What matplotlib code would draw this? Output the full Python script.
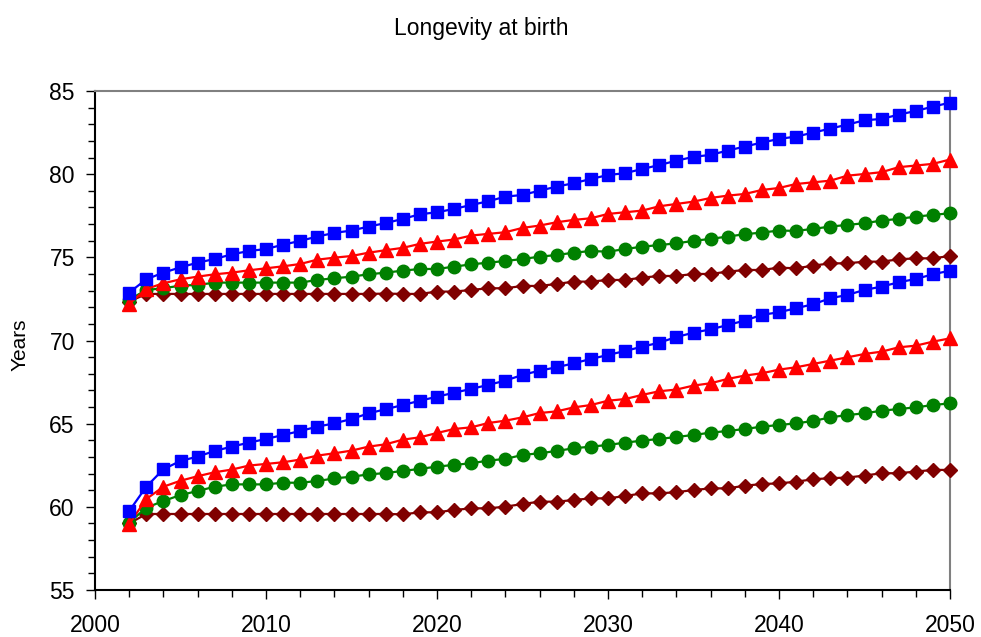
import matplotlib
matplotlib.use("Agg")
import matplotlib.pyplot as plt
from matplotlib.ticker import MultipleLocator

plt.rcParams['font.family'] = ['Liberation Sans', 'DejaVu Sans']

years = list(range(2002, 2051))

upper_blue = [72.88, 73.68, 74.08, 74.40, 74.68, 74.90, 75.18, 75.38, 75.50, 75.76,
              75.99, 76.25, 76.47, 76.61, 76.85, 77.06, 77.31, 77.59, 77.71, 77.91,
              78.15, 78.37, 78.65, 78.75, 79.01, 79.25, 79.46, 79.71, 79.95, 80.06,
              80.31, 80.55, 80.81, 81.04, 81.16, 81.42, 81.66, 81.90, 82.12, 82.26,
              82.50, 82.74, 82.98, 83.24, 83.32, 83.58, 83.80, 84.06, 84.30]
upper_red = [72.20, 73.10, 73.44, 73.68, 73.84, 73.98, 74.08, 74.22, 74.34, 74.46,
             74.60, 74.86, 74.98, 75.08, 75.28, 75.43, 75.57, 75.81, 75.95, 76.07,
             76.31, 76.41, 76.51, 76.77, 76.91, 77.11, 77.25, 77.35, 77.61, 77.71,
             77.81, 78.07, 78.21, 78.35, 78.57, 78.71, 78.81, 79.05, 79.17, 79.41,
             79.51, 79.61, 79.91, 80.01, 80.12, 80.42, 80.52, 80.62, 80.88]
upper_green = [72.45, 73.04, 73.14, 73.30, 73.34, 73.48, 73.48, 73.48, 73.48, 73.48,
               73.48, 73.64, 73.74, 73.84, 73.98, 74.08, 74.20, 74.30, 74.30, 74.44,
               74.58, 74.68, 74.78, 74.90, 75.04, 75.14, 75.28, 75.38, 75.34, 75.50,
               75.64, 75.74, 75.84, 75.99, 76.11, 76.25, 76.39, 76.49, 76.61, 76.59,
               76.71, 76.85, 76.95, 77.05, 77.21, 77.31, 77.45, 77.55, 77.65]
upper_darkred = [72.34, 72.80, 72.80, 72.80, 72.80, 72.80, 72.80, 72.80, 72.80, 72.80,
                 72.80, 72.80, 72.80, 72.80, 72.80, 72.82, 72.80, 72.80, 72.94, 72.94,
                 73.04, 73.14, 73.14, 73.28, 73.28, 73.40, 73.54, 73.54, 73.64, 73.64,
                 73.78, 73.88, 73.88, 74.00, 74.00, 74.14, 74.24, 74.24, 74.38, 74.34,
                 74.50, 74.64, 74.64, 74.74, 74.74, 74.88, 74.94, 74.94, 75.08]

lower_blue = [59.75, 61.21, 62.26, 62.76, 63.02, 63.36, 63.62, 63.86, 64.08, 64.32,
              64.56, 64.82, 65.02, 65.28, 65.62, 65.87, 66.12, 66.38, 66.62, 66.86,
              67.09, 67.33, 67.59, 67.93, 68.19, 68.39, 68.63, 68.89, 69.13, 69.37,
              69.63, 69.87, 70.21, 70.47, 70.67, 70.93, 71.20, 71.54, 71.70, 71.94,
              72.18, 72.54, 72.74, 73.04, 73.24, 73.50, 73.70, 73.98, 74.20]
lower_red = [58.97, 60.47, 61.21, 61.57, 61.84, 62.08, 62.24, 62.48, 62.58, 62.68,
             62.84, 63.08, 63.22, 63.38, 63.62, 63.76, 64.04, 64.18, 64.44, 64.68,
             64.78, 65.04, 65.18, 65.38, 65.64, 65.74, 65.98, 66.12, 66.38, 66.48,
             66.73, 66.95, 67.05, 67.29, 67.43, 67.69, 67.89, 68.03, 68.25, 68.39,
             68.59, 68.79, 68.99, 69.19, 69.33, 69.59, 69.69, 69.93, 70.13]
lower_green = [59.05, 59.95, 60.35, 60.71, 60.95, 61.21, 61.35, 61.35, 61.35, 61.45,
               61.45, 61.55, 61.71, 61.81, 61.95, 62.03, 62.16, 62.28, 62.42, 62.52,
               62.62, 62.78, 62.88, 63.12, 63.22, 63.36, 63.52, 63.62, 63.72, 63.86,
               63.98, 64.08, 64.20, 64.32, 64.46, 64.56, 64.68, 64.82, 64.92, 65.02,
               65.16, 65.38, 65.52, 65.62, 65.78, 65.88, 65.98, 66.12, 66.22]
lower_darkred = [59.00, 59.57, 59.57, 59.57, 59.57, 59.57, 59.57, 59.57, 59.57, 59.57,
                 59.57, 59.57, 59.57, 59.57, 59.57, 59.57, 59.55, 59.67, 59.67, 59.81,
                 59.91, 59.91, 60.01, 60.17, 60.31, 60.31, 60.41, 60.51, 60.51, 60.65,
                 60.81, 60.81, 60.88, 61.01, 61.11, 61.11, 61.27, 61.37, 61.41, 61.51,
                 61.66, 61.72, 61.76, 61.88, 62.02, 62.02, 62.12, 62.22, 62.22]

fig = plt.figure(figsize=(9.81, 6.37), dpi=100)
ax = fig.add_axes([95/981, 47/637, 855/981, 499/637])

styles = [
    (upper_blue, '#0000FF', 's', 8.6),
    (upper_red, '#FF0000', '^', 10.5),
    (upper_green, '#008000', 'o', 9.0),
    (upper_darkred, '#800000', 'D', 7.2),
    (lower_blue, '#0000FF', 's', 8.6),
    (lower_red, '#FF0000', '^', 10.5),
    (lower_green, '#008000', 'o', 9.0),
    (lower_darkred, '#800000', 'D', 7.2),
]
for i, (vals, col, mk, ms) in enumerate(styles):
    ax.plot(years, vals, color=col, marker=mk, markersize=ms, markeredgecolor=col,
            markerfacecolor=col, linewidth=1.6, clip_on=False, zorder=10 - (i % 4))

ax.set_xlim(2000, 2050)
ax.set_ylim(55, 85)
ax.xaxis.set_major_locator(MultipleLocator(10))
ax.xaxis.set_minor_locator(MultipleLocator(2))
ax.yaxis.set_major_locator(MultipleLocator(5))
ax.yaxis.set_minor_locator(MultipleLocator(1))
ax.tick_params(axis='both', which='major', direction='out', length=6.5, width=1.0,
               labelsize=16.5, color='black')
ax.tick_params(axis='both', which='minor', direction='out', length=5, width=1.0, color='black')
ax.tick_params(axis='x', which='major', pad=11)
ax.tick_params(axis='y', which='major', pad=8)

for s in ['left', 'bottom']:
    ax.spines[s].set_color('black')
    ax.spines[s].set_linewidth(1.5)
for s in ['top', 'right']:
    ax.spines[s].set_color('#808080')
    ax.spines[s].set_linewidth(1.5)

fig.text(481.7/981, 1 - 28/637, 'Longevity at birth', ha='center', va='center', fontsize=16.5)
fig.text(20/981, 1 - 345/637, 'Years', ha='center', va='center', rotation=90, fontsize=15)

fig.savefig('out.png', dpi=100)
